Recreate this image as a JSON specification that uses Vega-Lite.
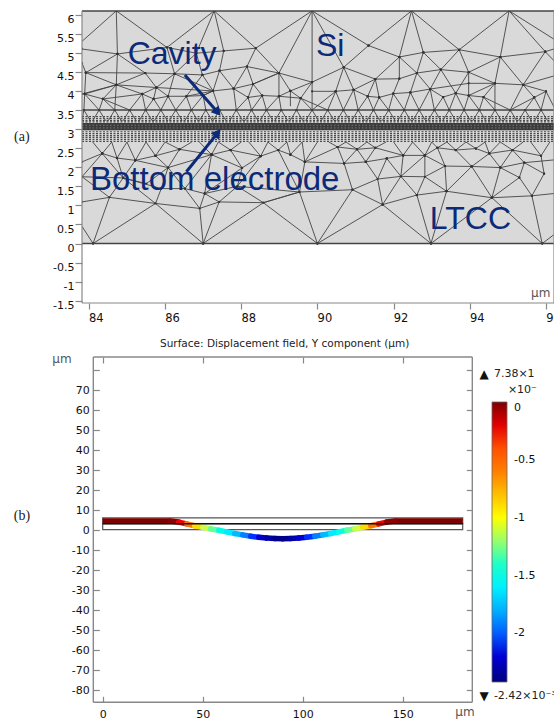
{"$schema":"https://vega.github.io/schema/vega-lite/v6.json","background":"white","padding":{"left":13,"top":10,"right":0,"bottom":0},"bounds":"flush","spacing":54,"config":{"view":{"stroke":null},"axis":{"grid":false,"title":null,"labelFont":"DejaVu Sans","labelFontSize":11,"labelColor":"#111","tickColor":"#888","domain":false,"tickWidth":1.2},"text":{"font":"DejaVu Sans"}},
"datasets":{"mesh":[
{"x":84.72,"y":6.1,"x2":83.82,"y2":5.3},{"x":84.72,"y":6.1,"x2":84.75,"y2":4.97},{"x":84.72,"y":6.1,"x2":86.05,"y2":5.14},{"x":87.29,"y":6.1,"x2":86.05,"y2":5.14},{"x":87.29,"y":6.1,"x2":86.82,"y2":4.99},{"x":87.29,"y":6.1,"x2":87.54,"y2":5.05},{"x":87.29,"y":6.1,"x2":88.38,"y2":5.12},{"x":89.86,"y":6.1,"x2":88.38,"y2":5.12},{"x":89.86,"y":6.1,"x2":88.99,"y2":4.47},{"x":89.86,"y":6.1,"x2":89.86,"y2":4.23},
{"x":83.82,"y":5.1,"x2":84.75,"y2":4.97},{"x":84.75,"y":4.97,"x2":86.05,"y2":5.14},{"x":86.05,"y":5.14,"x2":86.82,"y2":4.99},{"x":86.82,"y":4.99,"x2":87.54,"y2":5.05},{"x":87.54,"y":5.05,"x2":88.38,"y2":5.12},
{"x":84.75,"y":4.97,"x2":83.92,"y2":4.48},{"x":84.75,"y":4.97,"x2":84.72,"y2":4.16},{"x":84.75,"y":4.97,"x2":85.48,"y2":4.47},{"x":86.05,"y":5.14,"x2":86.25,"y2":4.45},{"x":86.82,"y":4.99,"x2":86.25,"y2":4.45},{"x":86.82,"y":4.99,"x2":86.98,"y2":4.42},{"x":87.54,"y":5.05,"x2":87.43,"y2":4.53},{"x":88.38,"y":5.12,"x2":88.15,"y2":4.64},{"x":88.38,"y":5.12,"x2":88.99,"y2":4.47},
{"x":83.92,"y":4.48,"x2":85.48,"y2":4.47},{"x":85.48,"y":4.47,"x2":86.25,"y2":4.45},{"x":86.25,"y":4.45,"x2":86.98,"y2":4.42},{"x":86.98,"y":4.42,"x2":87.43,"y2":4.53},{"x":87.43,"y":4.53,"x2":88.15,"y2":4.64},{"x":88.15,"y":4.64,"x2":88.99,"y2":4.47},{"x":88.99,"y":4.47,"x2":89.86,"y2":4.23},{"x":83.82,"y":4.73,"x2":83.92,"y2":4.48},
{"x":83.82,"y":3.92,"x2":84.72,"y2":4.16},{"x":84.72,"y":4.16,"x2":85.77,"y2":4.09},{"x":85.77,"y":4.09,"x2":87.26,"y2":4.0},{"x":87.26,"y":4.0,"x2":87.8,"y2":4.06},{"x":87.8,"y":4.06,"x2":88.31,"y2":4.18},{"x":88.31,"y":4.18,"x2":88.99,"y2":4.47},
{"x":83.92,"y":4.48,"x2":84.72,"y2":4.16},{"x":83.92,"y":4.48,"x2":83.89,"y2":3.92},{"x":85.48,"y":4.47,"x2":84.72,"y2":4.16},{"x":85.48,"y":4.47,"x2":85.77,"y2":4.09},{"x":86.25,"y":4.45,"x2":85.77,"y2":4.09},{"x":86.25,"y":4.45,"x2":86.08,"y2":3.86},{"x":86.25,"y":4.45,"x2":87.26,"y2":4.0},{"x":86.98,"y":4.42,"x2":87.26,"y2":4.0},{"x":87.43,"y":4.53,"x2":87.26,"y2":4.0},{"x":87.43,"y":4.53,"x2":87.8,"y2":4.06},{"x":88.15,"y":4.64,"x2":87.8,"y2":4.06},{"x":88.15,"y":4.64,"x2":88.31,"y2":4.18},{"x":88.99,"y":4.47,"x2":88.31,"y2":4.18},{"x":88.99,"y":4.47,"x2":88.99,"y2":3.86},{"x":88.99,"y":4.47,"x2":89.29,"y2":4.0},{"x":89.86,"y":4.23,"x2":89.29,"y2":4.0},{"x":89.86,"y":4.23,"x2":89.56,"y2":3.81},{"x":89.86,"y":4.23,"x2":89.86,"y2":3.5},
{"x":84.72,"y":4.16,"x2":83.89,"y2":3.92},{"x":84.72,"y":4.16,"x2":84.37,"y2":3.79},{"x":84.72,"y":4.16,"x2":85.4,"y2":3.92},{"x":84.72,"y":4.16,"x2":84.68,"y2":3.5},{"x":85.77,"y":4.09,"x2":85.4,"y2":3.92},{"x":85.77,"y":4.09,"x2":85.7,"y2":3.79},{"x":85.77,"y":4.09,"x2":86.08,"y2":3.86},{"x":87.26,"y":4.0,"x2":86.56,"y2":3.86},{"x":87.26,"y":4.0,"x2":87.0,"y2":3.88},{"x":87.8,"y":4.06,"x2":88.18,"y2":3.83},{"x":88.31,"y":4.18,"x2":88.18,"y2":3.83},{"x":88.31,"y":4.18,"x2":88.55,"y2":3.88},{"x":89.29,"y":4.0,"x2":88.99,"y2":3.86},{"x":89.29,"y":4.0,"x2":89.56,"y2":3.81},{"x":89.29,"y":4.0,"x2":89.29,"y2":3.6},
{"x":83.89,"y":3.92,"x2":84.37,"y2":3.79},{"x":84.37,"y":3.79,"x2":85.07,"y2":3.5},{"x":84.37,"y":3.79,"x2":85.4,"y2":3.92},{"x":85.4,"y":3.92,"x2":85.7,"y2":3.79},{"x":85.7,"y":3.79,"x2":86.08,"y2":3.86},{"x":86.08,"y":3.86,"x2":86.56,"y2":3.86},{"x":86.56,"y":3.86,"x2":87.0,"y2":3.88},{"x":87.0,"y":3.88,"x2":87.26,"y2":4.0},{"x":88.18,"y":3.83,"x2":88.55,"y2":3.88},{"x":88.55,"y":3.88,"x2":88.99,"y2":3.86},{"x":88.99,"y":3.86,"x2":89.56,"y2":3.81},{"x":86.98,"y":4.42,"x2":86.56,"y2":3.86},{"x":89.56,"y":3.81,"x2":90.27,"y2":3.5},{"x":90.48,"y":3.99,"x2":89.86,"y2":3.5},{"x":94.36,"y":3.84,"x2":95.06,"y2":3.5},{"x":95.06,"y":3.5,"x2":95.69,"y2":3.83},{"x":95.69,"y":3.83,"x2":96.0,"y2":3.99},
{"x":83.89,"y":3.92,"x2":83.87,"y2":3.5},{"x":83.89,"y":3.92,"x2":84.27,"y2":3.5},{"x":84.37,"y":3.79,"x2":84.27,"y2":3.5},{"x":84.37,"y":3.79,"x2":84.68,"y2":3.5},{"x":85.4,"y":3.92,"x2":85.07,"y2":3.5},{"x":85.4,"y":3.92,"x2":85.49,"y2":3.5},{"x":85.7,"y":3.79,"x2":85.49,"y2":3.5},{"x":85.7,"y":3.79,"x2":85.89,"y2":3.5},{"x":86.08,"y":3.86,"x2":85.89,"y2":3.5},{"x":86.08,"y":3.86,"x2":86.28,"y2":3.5},{"x":86.56,"y":3.86,"x2":86.28,"y2":3.5},{"x":86.56,"y":3.86,"x2":86.69,"y2":3.5},{"x":87.0,"y":3.88,"x2":86.69,"y2":3.5},{"x":87.0,"y":3.88,"x2":87.07,"y2":3.5},{"x":87.26,"y":4.0,"x2":87.43,"y2":3.5},{"x":87.8,"y":4.06,"x2":87.87,"y2":3.5},{"x":88.18,"y":3.83,"x2":87.87,"y2":3.5},{"x":88.18,"y":3.83,"x2":88.27,"y2":3.5},{"x":88.55,"y":3.88,"x2":88.27,"y2":3.5},{"x":88.55,"y":3.88,"x2":88.66,"y2":3.5},{"x":88.99,"y":3.86,"x2":88.66,"y2":3.5},{"x":88.99,"y":3.86,"x2":89.05,"y2":3.5},{"x":89.56,"y":3.81,"x2":89.45,"y2":3.5},{"x":89.56,"y":3.81,"x2":89.86,"y2":3.5},
{"x":89.86,"y":6.1,"x2":91.34,"y2":5.19},{"x":89.86,"y":6.1,"x2":90.69,"y2":4.62},{"x":91.34,"y":5.19,"x2":92.47,"y2":6.1},{"x":91.34,"y":5.19,"x2":90.69,"y2":4.62},{"x":91.34,"y":5.19,"x2":92.15,"y2":4.89},{"x":92.47,"y":6.1,"x2":92.15,"y2":4.89},{"x":92.47,"y":6.1,"x2":92.78,"y2":5.01},{"x":92.47,"y":6.1,"x2":93.72,"y2":5.08},{"x":92.15,"y":4.89,"x2":92.78,"y2":5.01},{"x":92.78,"y":5.01,"x2":93.72,"y2":5.08},{"x":93.72,"y":5.08,"x2":94.8,"y2":4.89},{"x":93.72,"y":5.08,"x2":95.03,"y2":6.1},{"x":94.8,"y":4.89,"x2":95.03,"y2":6.1},{"x":94.8,"y":4.89,"x2":95.98,"y2":5.03},{"x":95.03,"y":6.1,"x2":95.98,"y2":5.03},{"x":95.03,"y":6.1,"x2":96.3,"y2":5.3},{"x":95.98,"y":5.03,"x2":96.3,"y2":5.13},
{"x":92.15,"y":4.89,"x2":91.52,"y2":4.31},{"x":92.15,"y":4.89,"x2":92.15,"y2":4.32},{"x":92.15,"y":4.89,"x2":92.61,"y2":4.47},{"x":92.78,"y":5.01,"x2":92.61,"y2":4.47},{"x":92.78,"y":5.01,"x2":93.24,"y2":4.56},{"x":93.72,"y":5.08,"x2":93.24,"y2":4.56},{"x":93.72,"y":5.08,"x2":93.97,"y2":4.49},{"x":94.8,"y":4.89,"x2":93.97,"y2":4.49},{"x":94.8,"y":4.89,"x2":94.66,"y2":4.2},{"x":94.8,"y":4.89,"x2":95.4,"y2":4.16},{"x":95.98,"y":5.03,"x2":95.4,"y2":4.16},{"x":95.98,"y":5.03,"x2":96.3,"y2":4.7},
{"x":90.69,"y":4.62,"x2":89.86,"y2":4.23},{"x":90.69,"y":4.62,"x2":90.48,"y2":3.99},{"x":90.69,"y":4.62,"x2":90.95,"y2":4.03},{"x":90.69,"y":4.62,"x2":91.52,"y2":4.31},{"x":91.52,"y":4.31,"x2":92.15,"y2":4.32},{"x":92.15,"y":4.32,"x2":92.61,"y2":4.47},{"x":92.61,"y":4.47,"x2":93.24,"y2":4.56},{"x":93.24,"y":4.56,"x2":93.97,"y2":4.49},{"x":93.97,"y":4.49,"x2":94.66,"y2":4.2},{"x":94.66,"y":4.2,"x2":95.4,"y2":4.16},{"x":95.4,"y":4.16,"x2":96.3,"y2":4.42},
{"x":89.86,"y":3.99,"x2":90.48,"y2":3.99},{"x":90.48,"y":3.99,"x2":90.95,"y2":4.03},{"x":90.95,"y":4.03,"x2":91.52,"y2":4.31},{"x":91.52,"y":4.31,"x2":91.32,"y2":3.86},{"x":91.52,"y":4.31,"x2":91.62,"y2":3.83},{"x":91.32,"y":3.86,"x2":91.62,"y2":3.83},{"x":91.62,"y":3.83,"x2":91.99,"y2":3.93},{"x":91.99,"y":3.93,"x2":92.44,"y2":3.96},{"x":92.44,"y":3.96,"x2":92.96,"y2":4.05},{"x":92.96,"y":4.05,"x2":93.97,"y2":4.2},{"x":93.97,"y":4.2,"x2":94.66,"y2":4.2},{"x":92.15,"y":4.32,"x2":91.99,"y2":3.93},{"x":92.61,"y":4.47,"x2":92.44,"y2":3.96},{"x":92.61,"y":4.47,"x2":92.96,"y2":4.05},{"x":93.24,"y":4.56,"x2":92.96,"y2":4.05},{"x":93.24,"y":4.56,"x2":93.63,"y2":3.94},{"x":93.97,"y":4.49,"x2":93.63,"y2":3.94},{"x":93.97,"y":4.49,"x2":93.97,"y2":3.88},{"x":94.66,"y":4.2,"x2":93.97,"y2":3.88},{"x":94.66,"y":4.2,"x2":94.36,"y2":3.84},{"x":94.66,"y":4.2,"x2":94.66,"y2":3.5},{"x":95.4,"y":4.16,"x2":95.06,"y2":3.5},{"x":95.4,"y":4.16,"x2":95.69,"y2":3.83},{"x":95.4,"y":4.16,"x2":96.0,"y2":3.99},{"x":93.3,"y":3.84,"x2":93.63,"y2":3.94},{"x":93.63,"y":3.94,"x2":93.97,"y2":3.88},{"x":93.97,"y":3.88,"x2":94.36,"y2":3.84},{"x":92.96,"y":4.05,"x2":93.3,"y2":3.84},
{"x":90.48,"y":3.99,"x2":90.27,"y2":3.5},{"x":90.48,"y":3.99,"x2":90.68,"y2":3.5},{"x":90.95,"y":4.03,"x2":90.68,"y2":3.5},{"x":90.95,"y":4.03,"x2":91.07,"y2":3.5},{"x":90.95,"y":4.03,"x2":91.32,"y2":3.86},{"x":91.32,"y":3.86,"x2":91.07,"y2":3.5},{"x":91.32,"y":3.86,"x2":91.47,"y2":3.5},{"x":91.62,"y":3.83,"x2":91.47,"y2":3.5},{"x":91.62,"y":3.83,"x2":91.87,"y2":3.5},{"x":91.99,"y":3.93,"x2":91.87,"y2":3.5},{"x":91.99,"y":3.93,"x2":92.28,"y2":3.5},{"x":92.44,"y":3.96,"x2":92.28,"y2":3.5},{"x":92.44,"y":3.96,"x2":92.67,"y2":3.5},{"x":92.96,"y":4.05,"x2":92.67,"y2":3.5},{"x":92.96,"y":4.05,"x2":93.07,"y2":3.5},{"x":93.3,"y":3.84,"x2":93.07,"y2":3.5},{"x":93.3,"y":3.84,"x2":93.46,"y2":3.5},{"x":93.63,"y":3.94,"x2":93.46,"y2":3.5},{"x":93.63,"y":3.94,"x2":93.85,"y2":3.5},{"x":93.97,"y":3.88,"x2":93.85,"y2":3.5},{"x":93.97,"y":3.88,"x2":94.25,"y2":3.5},{"x":94.36,"y":3.84,"x2":94.25,"y2":3.5},{"x":94.36,"y":3.84,"x2":94.66,"y2":3.5},{"x":95.69,"y":3.83,"x2":95.45,"y2":3.5},{"x":95.69,"y":3.83,"x2":95.87,"y2":3.5},{"x":96.0,"y":3.99,"x2":95.87,"y2":3.5},{"x":96.0,"y":3.99,"x2":96.25,"y2":3.5},
{"x":84.11,"y":0,"x2":83.82,"y2":0.45},{"x":84.11,"y":0,"x2":84.54,"y2":1.21},{"x":84.11,"y":0,"x2":85.75,"y2":1.05},{"x":87.0,"y":0,"x2":85.75,"y2":1.05},{"x":87.0,"y":0,"x2":86.91,"y2":0.92},{"x":87.0,"y":0,"x2":87.42,"y2":1.09},{"x":87.0,"y":0,"x2":88.58,"y2":1.07},{"x":90.0,"y":0,"x2":88.58,"y2":1.07},{"x":90.0,"y":0,"x2":89.53,"y2":1.35},{"x":90.0,"y":0,"x2":90.92,"y2":1.41},{"x":90.0,"y":0,"x2":91.71,"y2":1.02},{"x":92.98,"y":0,"x2":91.71,"y2":1.02},{"x":92.98,"y":0,"x2":92.61,"y2":1.27},{"x":92.98,"y":0,"x2":93.39,"y2":1.37},{"x":92.98,"y":0,"x2":94.58,"y2":1.2},{"x":95.9,"y":0,"x2":94.58,"y2":1.2},{"x":95.9,"y":0,"x2":95.63,"y2":1.25},{"x":95.9,"y":0,"x2":96.3,"y2":0.3},
{"x":83.82,"y":1.09,"x2":84.54,"y2":1.21},{"x":84.54,"y":1.21,"x2":85.75,"y2":1.05},{"x":85.75,"y":1.05,"x2":86.91,"y2":0.92},{"x":86.91,"y":0.92,"x2":87.42,"y2":1.09},{"x":87.42,"y":1.09,"x2":88.58,"y2":1.07},{"x":88.58,"y":1.07,"x2":89.53,"y2":1.35},{"x":89.53,"y":1.35,"x2":90.92,"y2":1.41},{"x":90.92,"y":1.41,"x2":91.71,"y2":1.02},{"x":91.71,"y":1.02,"x2":92.61,"y2":1.27},{"x":92.61,"y":1.27,"x2":93.39,"y2":1.37},{"x":93.39,"y":1.37,"x2":94.58,"y2":1.2},{"x":94.58,"y":1.2,"x2":95.63,"y2":1.25},{"x":95.63,"y":1.25,"x2":96.3,"y2":1.32},
{"x":83.82,"y":1.75,"x2":84.9,"y2":1.72},{"x":84.9,"y":1.72,"x2":85.9,"y2":1.44},{"x":85.9,"y":1.44,"x2":86.52,"y2":1.44},{"x":86.52,"y":1.44,"x2":87.04,"y2":1.31},{"x":87.04,"y":1.31,"x2":87.9,"y2":1.5},{"x":87.9,"y":1.5,"x2":89.53,"y2":1.35},
{"x":83.82,"y":2.14,"x2":84.35,"y2":2.36},{"x":84.35,"y":2.36,"x2":84.74,"y2":2.24},{"x":84.74,"y":2.24,"x2":85.22,"y2":2.18},{"x":85.22,"y":2.18,"x2":85.75,"y2":2.3},{"x":85.75,"y":2.3,"x2":86.38,"y2":2.47},{"x":86.38,"y":2.47,"x2":87.22,"y2":2.33},{"x":87.22,"y":2.33,"x2":87.72,"y2":2.45},{"x":87.72,"y":2.45,"x2":88.51,"y2":2.29},{"x":88.51,"y":2.29,"x2":88.97,"y2":2.45},{"x":88.97,"y":2.45,"x2":89.29,"y2":2.33},{"x":89.29,"y":2.33,"x2":89.67,"y2":2.14},{"x":89.67,"y":2.14,"x2":90.7,"y2":2.1},
{"x":84.35,"y":2.36,"x2":84.1,"y2":2.66},{"x":84.35,"y":2.36,"x2":84.6,"y2":2.66},{"x":84.74,"y":2.24,"x2":84.6,"y2":2.66},{"x":84.74,"y":2.24,"x2":85.0,"y2":2.66},{"x":85.22,"y":2.18,"x2":85.0,"y2":2.66},{"x":85.22,"y":2.18,"x2":85.5,"y2":2.66},{"x":85.75,"y":2.3,"x2":85.5,"y2":2.66},{"x":85.75,"y":2.3,"x2":86.0,"y2":2.66},{"x":86.38,"y":2.47,"x2":86.0,"y2":2.66},{"x":86.38,"y":2.47,"x2":86.7,"y2":2.66},{"x":87.22,"y":2.33,"x2":86.9,"y2":2.66},{"x":87.22,"y":2.33,"x2":87.4,"y2":2.66},{"x":87.72,"y":2.45,"x2":87.4,"y2":2.66},{"x":87.72,"y":2.45,"x2":88.0,"y2":2.66},{"x":88.51,"y":2.29,"x2":88.2,"y2":2.66},{"x":88.51,"y":2.29,"x2":88.7,"y2":2.66},{"x":88.97,"y":2.45,"x2":88.7,"y2":2.66},{"x":88.97,"y":2.45,"x2":89.2,"y2":2.66},{"x":89.29,"y":2.33,"x2":89.2,"y2":2.66},{"x":89.29,"y":2.33,"x2":89.6,"y2":2.66},{"x":89.67,"y":2.14,"x2":89.6,"y2":2.66},{"x":89.67,"y":2.14,"x2":90.0,"y2":2.66},
{"x":84.35,"y":2.36,"x2":83.82,"y2":1.75},{"x":84.35,"y":2.36,"x2":84.9,"y2":1.72},{"x":84.74,"y":2.24,"x2":84.9,"y2":1.72},{"x":85.22,"y":2.18,"x2":84.9,"y2":1.72},{"x":85.22,"y":2.18,"x2":86.08,"y2":1.99},{"x":85.75,"y":2.3,"x2":86.08,"y2":1.99},{"x":86.38,"y":2.47,"x2":86.08,"y2":1.99},{"x":87.22,"y":2.33,"x2":86.08,"y2":1.99},{"x":86.08,"y":1.99,"x2":85.9,"y2":1.44},{"x":86.08,"y":1.99,"x2":86.52,"y2":1.44},{"x":86.08,"y":1.99,"x2":85.51,"y2":1.57},{"x":85.51,"y":1.57,"x2":84.9,"y2":1.72},{"x":87.22,"y":2.33,"x2":86.52,"y2":1.44},{"x":87.22,"y":2.33,"x2":87.04,"y2":1.31},{"x":87.72,"y":2.45,"x2":88.02,"y2":1.98},{"x":88.51,"y":2.29,"x2":88.02,"y2":1.98},{"x":87.22,"y":2.33,"x2":88.02,"y2":1.98},{"x":88.02,"y":1.98,"x2":87.04,"y2":1.31},{"x":88.02,"y":1.98,"x2":87.9,"y2":1.5},{"x":87.9,"y":1.5,"x2":87.42,"y2":1.09},{"x":88.51,"y":2.29,"x2":87.9,"y2":1.5},{"x":88.97,"y":2.45,"x2":89.53,"y2":1.35},{"x":89.67,"y":2.14,"x2":89.53,"y2":1.35},{"x":84.9,"y":1.72,"x2":84.54,"y2":1.21},{"x":84.9,"y":1.72,"x2":85.75,"y2":1.05},{"x":85.9,"y":1.44,"x2":85.75,"y2":1.05},{"x":86.52,"y":1.44,"x2":86.91,"y2":0.92},{"x":87.04,"y":1.31,"x2":86.91,"y2":0.92},{"x":87.04,"y":1.31,"x2":87.42,"y2":1.09},{"x":87.9,"y":1.5,"x2":88.58,"y2":1.07},{"x":89.53,"y":1.35,"x2":88.58,"y2":1.07},{"x":83.82,"y":1.75,"x2":84.54,"y2":1.21},
{"x":90.92,"y":1.41,"x2":91.58,"y2":1.69},{"x":91.58,"y":1.69,"x2":92.19,"y2":1.76},{"x":92.19,"y":1.76,"x2":92.82,"y2":1.75},{"x":92.82,"y":1.75,"x2":93.35,"y2":2.03},{"x":93.35,"y":2.03,"x2":94.05,"y2":2.02},{"x":94.05,"y":2.02,"x2":94.8,"y2":1.99},{"x":94.8,"y":1.99,"x2":95.43,"y2":2.12},{"x":95.43,"y":2.12,"x2":96.3,"y2":2.2},{"x":90.7,"y":2.1,"x2":91.27,"y2":2.14},{"x":91.27,"y":2.14,"x2":91.82,"y2":2.23},{"x":91.82,"y":2.23,"x2":92.25,"y2":2.31},
{"x":91.71,"y":1.02,"x2":91.58,"y2":1.69},{"x":91.71,"y":1.02,"x2":92.19,"y2":1.76},{"x":92.61,"y":1.27,"x2":92.19,"y2":1.76},{"x":92.61,"y":1.27,"x2":92.82,"y2":1.75},{"x":93.39,"y":1.37,"x2":92.82,"y2":1.75},{"x":93.39,"y":1.37,"x2":93.35,"y2":2.03},{"x":93.39,"y":1.37,"x2":94.05,"y2":2.02},{"x":94.58,"y":1.2,"x2":94.05,"y2":2.02},{"x":94.58,"y":1.2,"x2":94.8,"y2":1.99},{"x":94.58,"y":1.2,"x2":95.3,"y2":1.73},{"x":95.63,"y":1.25,"x2":95.3,"y2":1.73},{"x":95.63,"y":1.25,"x2":95.95,"y2":1.83},
{"x":90.7,"y":2.1,"x2":90.92,"y2":1.41},{"x":90.7,"y":2.1,"x2":90.53,"y2":2.53},{"x":90.7,"y":2.1,"x2":91.04,"y2":2.47},{"x":91.27,"y":2.14,"x2":91.04,"y2":2.47},{"x":91.27,"y":2.14,"x2":91.58,"y2":1.69},{"x":91.27,"y":2.14,"x2":91.52,"y2":2.51},{"x":91.82,"y":2.23,"x2":91.58,"y2":1.69},{"x":91.82,"y":2.23,"x2":92.19,"y2":1.76},{"x":92.25,"y":2.31,"x2":92.19,"y2":1.76},{"x":92.82,"y":2.31,"x2":92.19,"y2":1.76},{"x":92.82,"y":2.31,"x2":92.82,"y2":1.75},{"x":93.35,"y":2.03,"x2":93.15,"y2":2.51},{"x":93.35,"y":2.03,"x2":92.82,"y2":2.31},{"x":94.05,"y":2.02,"x2":93.63,"y2":2.45},{"x":94.05,"y":2.02,"x2":94.51,"y2":2.36},{"x":94.8,"y":1.99,"x2":94.51,"y2":2.36},{"x":94.8,"y":1.99,"x2":95.12,"y2":2.45},{"x":95.43,"y":2.12,"x2":95.12,"y2":2.45},{"x":95.3,"y":1.73,"x2":94.8,"y2":1.99},{"x":95.3,"y":1.73,"x2":95.43,"y2":2.12},{"x":95.95,"y":1.83,"x2":95.43,"y2":2.12},{"x":95.95,"y":1.83,"x2":95.87,"y2":2.3},
{"x":89.67,"y":2.14,"x2":90.53,"y2":2.53},{"x":90.53,"y":2.53,"x2":91.04,"y2":2.47},{"x":91.04,"y":2.47,"x2":91.52,"y2":2.51},{"x":91.52,"y":2.51,"x2":92.25,"y2":2.31},{"x":92.25,"y":2.31,"x2":92.82,"y2":2.31},{"x":92.82,"y":2.31,"x2":93.15,"y2":2.51},{"x":93.15,"y":2.51,"x2":93.63,"y2":2.45},{"x":93.63,"y":2.45,"x2":94.16,"y2":2.49},{"x":94.16,"y":2.49,"x2":94.51,"y2":2.36},{"x":94.51,"y":2.36,"x2":95.12,"y2":2.45},{"x":95.12,"y":2.45,"x2":95.87,"y2":2.3},
{"x":90.53,"y":2.53,"x2":90.3,"y2":2.66},{"x":90.53,"y":2.53,"x2":90.75,"y2":2.66},{"x":91.04,"y":2.47,"x2":90.75,"y2":2.66},{"x":91.04,"y":2.47,"x2":91.3,"y2":2.66},{"x":91.52,"y":2.51,"x2":91.3,"y2":2.66},{"x":91.52,"y":2.51,"x2":91.8,"y2":2.66},{"x":92.25,"y":2.31,"x2":92.0,"y2":2.66},{"x":92.25,"y":2.31,"x2":92.5,"y2":2.66},{"x":92.82,"y":2.31,"x2":92.5,"y2":2.66},{"x":92.82,"y":2.31,"x2":93.0,"y2":2.66},{"x":93.15,"y":2.51,"x2":93.0,"y2":2.66},{"x":93.15,"y":2.51,"x2":93.4,"y2":2.66},{"x":93.63,"y":2.45,"x2":93.4,"y2":2.66},{"x":93.63,"y":2.45,"x2":93.9,"y2":2.66},{"x":94.16,"y":2.49,"x2":93.9,"y2":2.66},{"x":94.16,"y":2.49,"x2":94.4,"y2":2.66},{"x":94.51,"y":2.36,"x2":94.4,"y2":2.66},{"x":94.51,"y":2.36,"x2":94.8,"y2":2.66},{"x":95.12,"y":2.45,"x2":94.8,"y2":2.66},{"x":95.12,"y":2.45,"x2":95.4,"y2":2.66},{"x":95.87,"y":2.3,"x2":95.6,"y2":2.66},{"x":95.87,"y":2.3,"x2":96.1,"y2":2.66},
{"x":83.87,"y":3.5,"x2":83.82,"y2":3.22},{"x":83.87,"y":3.5,"x2":84.04,"y2":3.22},{"x":84.27,"y":3.5,"x2":84.1,"y2":3.22},{"x":84.27,"y":3.5,"x2":84.44,"y2":3.22},{"x":84.68,"y":3.5,"x2":84.51,"y2":3.22},{"x":84.68,"y":3.5,"x2":84.85,"y2":3.22},{"x":85.07,"y":3.5,"x2":84.9,"y2":3.22},{"x":85.07,"y":3.5,"x2":85.24,"y2":3.22},{"x":85.49,"y":3.5,"x2":85.32,"y2":3.22},{"x":85.49,"y":3.5,"x2":85.66,"y2":3.22},{"x":85.89,"y":3.5,"x2":85.72,"y2":3.22},{"x":85.89,"y":3.5,"x2":86.06,"y2":3.22},{"x":86.28,"y":3.5,"x2":86.11,"y2":3.22},{"x":86.28,"y":3.5,"x2":86.45,"y2":3.22},{"x":86.69,"y":3.5,"x2":86.52,"y2":3.22},{"x":86.69,"y":3.5,"x2":86.86,"y2":3.22},{"x":87.07,"y":3.5,"x2":86.9,"y2":3.22},{"x":87.07,"y":3.5,"x2":87.24,"y2":3.22},{"x":87.43,"y":3.5,"x2":87.26,"y2":3.22},{"x":87.43,"y":3.5,"x2":87.6,"y2":3.22},{"x":87.87,"y":3.5,"x2":87.7,"y2":3.22},{"x":87.87,"y":3.5,"x2":88.04,"y2":3.22},{"x":88.27,"y":3.5,"x2":88.1,"y2":3.22},{"x":88.27,"y":3.5,"x2":88.44,"y2":3.22},{"x":88.66,"y":3.5,"x2":88.49,"y2":3.22},{"x":88.66,"y":3.5,"x2":88.83,"y2":3.22},{"x":89.05,"y":3.5,"x2":88.88,"y2":3.22},{"x":89.05,"y":3.5,"x2":89.22,"y2":3.22},{"x":89.45,"y":3.5,"x2":89.28,"y2":3.22},{"x":89.45,"y":3.5,"x2":89.62,"y2":3.22},{"x":89.86,"y":3.5,"x2":89.69,"y2":3.22},{"x":89.86,"y":3.5,"x2":90.03,"y2":3.22},{"x":90.27,"y":3.5,"x2":90.1,"y2":3.22},{"x":90.27,"y":3.5,"x2":90.44,"y2":3.22},{"x":90.68,"y":3.5,"x2":90.51,"y2":3.22},{"x":90.68,"y":3.5,"x2":90.85,"y2":3.22},{"x":91.07,"y":3.5,"x2":90.9,"y2":3.22},{"x":91.07,"y":3.5,"x2":91.24,"y2":3.22},{"x":91.47,"y":3.5,"x2":91.3,"y2":3.22},{"x":91.47,"y":3.5,"x2":91.64,"y2":3.22},{"x":91.87,"y":3.5,"x2":91.7,"y2":3.22},{"x":91.87,"y":3.5,"x2":92.04,"y2":3.22},{"x":92.28,"y":3.5,"x2":92.11,"y2":3.22},{"x":92.28,"y":3.5,"x2":92.45,"y2":3.22},{"x":92.67,"y":3.5,"x2":92.5,"y2":3.22},{"x":92.67,"y":3.5,"x2":92.84,"y2":3.22},{"x":93.07,"y":3.5,"x2":92.9,"y2":3.22},{"x":93.07,"y":3.5,"x2":93.24,"y2":3.22},{"x":93.46,"y":3.5,"x2":93.29,"y2":3.22},{"x":93.46,"y":3.5,"x2":93.63,"y2":3.22},{"x":93.85,"y":3.5,"x2":93.68,"y2":3.22},{"x":93.85,"y":3.5,"x2":94.02,"y2":3.22},{"x":94.25,"y":3.5,"x2":94.08,"y2":3.22},{"x":94.25,"y":3.5,"x2":94.42,"y2":3.22},{"x":94.66,"y":3.5,"x2":94.49,"y2":3.22},{"x":94.66,"y":3.5,"x2":94.83,"y2":3.22},{"x":95.06,"y":3.5,"x2":94.89,"y2":3.22},{"x":95.06,"y":3.5,"x2":95.23,"y2":3.22},{"x":95.45,"y":3.5,"x2":95.28,"y2":3.22},{"x":95.45,"y":3.5,"x2":95.62,"y2":3.22},{"x":95.87,"y":3.5,"x2":95.7,"y2":3.22},{"x":95.87,"y":3.5,"x2":96.04,"y2":3.22}
],
"bend":[
{"x":34,"y":4.6,"x2":38,"y2":4.1,"v":-0.03},{"x":38,"y":4.1,"x2":42,"y2":3.2,"v":-0.22},{"x":42,"y":3.2,"x2":46,"y2":2.3,"v":-0.55},{"x":46,"y":2.3,"x2":50,"y2":1.5,"v":-0.88},{"x":50,"y":1.5,"x2":54,"y2":0.7,"v":-1.1},{"x":54,"y":0.7,"x2":58,"y2":0,"v":-1.3},{"x":58,"y":0,"x2":62,"y2":-0.8,"v":-1.47},{"x":62,"y":-0.8,"x2":66,"y2":-1.6,"v":-1.62},{"x":66,"y":-1.6,"x2":70,"y2":-2.3,"v":-1.77},{"x":70,"y":-2.3,"x2":74,"y2":-3,"v":-1.92},{"x":74,"y":-3,"x2":78,"y2":-3.5,"v":-2.07},{"x":78,"y":-3.5,"x2":82,"y2":-3.9,"v":-2.2},{"x":82,"y":-3.9,"x2":86,"y2":-4.1,"v":-2.31},{"x":86,"y":-4.1,"x2":90,"y2":-4.2,"v":-2.39},
{"x":90,"y":-4.2,"x2":94,"y2":-4.1,"v":-2.39},{"x":94,"y":-4.1,"x2":98,"y2":-3.9,"v":-2.31},{"x":98,"y":-3.9,"x2":102,"y2":-3.5,"v":-2.2},{"x":102,"y":-3.5,"x2":106,"y2":-3,"v":-2.07},{"x":106,"y":-3,"x2":110,"y2":-2.3,"v":-1.92},{"x":110,"y":-2.3,"x2":114,"y2":-1.6,"v":-1.77},{"x":114,"y":-1.6,"x2":118,"y2":-0.8,"v":-1.62},{"x":118,"y":-0.8,"x2":122,"y2":0,"v":-1.47},{"x":122,"y":0,"x2":126,"y2":0.7,"v":-1.3},{"x":126,"y":0.7,"x2":130,"y2":1.5,"v":-1.1},{"x":130,"y":1.5,"x2":134,"y2":2.3,"v":-0.88},{"x":134,"y":2.3,"x2":138,"y2":3.2,"v":-0.55},{"x":138,"y":3.2,"x2":142,"y2":4.1,"v":-0.22},{"x":142,"y":4.1,"x2":146,"y2":4.6,"v":-0.03}
]},
"vconcat":[
{"width":472,"height":292,
"encoding":{"x":{"field":"x","type":"quantitative","scale":{"domain":[83.82,96.21],"nice":false,"zero":false},"axis":{"values":[84,86,88,90,92,94,96],"labelOffset":7,"tickSize":6,"labelPadding":3,"labelFontSize":11.5}},"y":{"field":"y","type":"quantitative","scale":{"domain":[-1.56,6.096],"nice":false,"zero":false},"axis":{"values":[-1.5,-1,-0.5,0,0.5,1,1.5,2,2.5,3,3.5,4,4.5,5,5.5,6],"labelExpr":"replace(format(datum.value,'~g'),'−','-')","labelOffset":5,"tickSize":7,"labelPadding":1}}},
"layer":[
{"data":{"values":[{"x":83.82,"x2":96.21,"y":0,"y2":6.096}]},"mark":{"type":"rect","color":"#d9d9d9"},"encoding":{"x2":{"field":"x2"},"y2":{"field":"y2"}}},
{"data":{"name":"mesh"},"mark":{"type":"rule","color":"#444444","strokeWidth":0.9,"clip":true},"encoding":{"x2":{"field":"x2"},"y2":{"field":"y2"}}},
{"data":{"name":"mesh"},"mark":{"type":"circle","color":"#333333","size":5,"opacity":1,"clip":true}},
{"data":{"values":[{"x":83.82,"x2":96.21,"y":2.97,"y2":3.16}]},"mark":{"type":"rect","color":"#3c3c3c"},"encoding":{"x2":{"field":"x2"},"y2":{"field":"y2"}}},
{"data":{"values":[{"x":83.82,"x2":96.21,"y":3.33},{"x":83.82,"x2":96.21,"y":3.28},{"x":83.82,"x2":96.21,"y":3.23},{"x":83.82,"x2":96.21,"y":3.19},{"x":83.82,"x2":96.21,"y":2.93},{"x":83.82,"x2":96.21,"y":2.88},{"x":83.82,"x2":96.21,"y":2.83},{"x":83.82,"x2":96.21,"y":2.78},{"x":83.82,"x2":96.21,"y":2.73},{"x":83.82,"x2":96.21,"y":2.68}]},"mark":{"type":"rule","color":"#4a4a4a","strokeWidth":1.2,"strokeDash":[2,1.5]},"encoding":{"x2":{"field":"x2"}}},
{"data":{"values":[{"x":83.82,"x2":96.21,"y":3.03},{"x":83.82,"x2":96.21,"y":3.1}]},"mark":{"type":"rule","color":"#8a8a8a","strokeWidth":0.8,"strokeDash":[1.5,2]},"encoding":{"x2":{"field":"x2"}}},
{"data":{"values":[{"x":83.82,"x2":96.21,"y":0},{"x":83.82,"x2":96.21,"y":3.5},{"x":83.82,"x2":96.21,"y":6.096}]},"mark":{"type":"rule","color":"#444444","strokeWidth":1.4},"encoding":{"x2":{"field":"x2"}}},
{"data":{"values":[{"x":83.82,"y":-1.56,"y2":6.096},{"x":96.21,"y":-1.56,"y2":6.096}]},"mark":{"type":"rule","color":"#888888","strokeWidth":1.2},"encoding":{"y2":{"field":"y2"}}},
{"data":{"values":[{"x":83.82,"x2":96.21,"y":-1.56}]},"mark":{"type":"rule","color":"#888888","strokeWidth":1.2},"encoding":{"x2":{"field":"x2"}}},
{"data":{"values":[{"x":86.52,"y":4.42,"x2":87.4,"y2":3.42},{"x":86.56,"y":1.88,"x2":87.4,"y2":2.92}]},"mark":{"type":"rule","color":"#0b2a78","strokeWidth":3},"encoding":{"x2":{"field":"x2"},"y2":{"field":"y2"}}},
{"data":{"values":[{"x":87.38,"y":3.44}]},"mark":{"type":"point","shape":"triangle-up","filled":true,"color":"#0b2a78","opacity":1,"size":110,"angle":139}},
{"data":{"values":[{"x":87.38,"y":2.9}]},"mark":{"type":"point","shape":"triangle-up","filled":true,"color":"#0b2a78","opacity":1,"size":110,"angle":39}},
{"data":{"values":[{"x":85.02,"y":4.7,"t":"Cavity","s":32},{"x":89.96,"y":4.91,"t":"Si","s":32},{"x":84.03,"y":1.4,"t":"Bottom electrode","s":33},{"x":92.95,"y":0.37,"t":"LTCC","s":32}]},"mark":{"type":"text","font":"Liberation Sans","align":"left","baseline":"alphabetic","color":"#0b2a78","fontSize":32},"encoding":{"text":{"field":"t"},"size":{"field":"s","type":"quantitative","scale":null}}},
{"data":{"values":[{"x":95.86,"y":-1.3,"t":"µm"}]},"mark":{"type":"text","fontSize":12,"color":"#555555"},"encoding":{"text":{"field":"t"}}},
{"data":{"values":[{"x":82.24,"y":2.79,"t":"(a)"}]},"mark":{"type":"text","font":"Liberation Serif","fontSize":14,"color":"#222222"},"encoding":{"text":{"field":"t"}}}
]},
{"width":472,"height":345.3,
"resolve":{"axis":{"x":"independent","y":"independent"}},
"encoding":{"x":{"field":"x","type":"quantitative","scale":{"domain":[-10.35,225.65],"nice":false,"zero":false},"axis":null},"y":{"field":"y","type":"quantitative","scale":{"domain":[-86,86.65],"nice":false,"zero":false},"axis":null}},
"layer":[
{"data":{"values":[{"x":-4.7,"y":-86}]},"mark":{"type":"point","opacity":0},"encoding":{"x":{"field":"x","type":"quantitative","scale":{"domain":[-10.35,225.65],"nice":false,"zero":false},"axis":{"orient":"bottom","offset":-6,"values":[0,50,100,150],"tickSize":6,"labelPadding":6}},"y":{"field":"y","type":"quantitative","scale":{"domain":[-86,86.65],"nice":false,"zero":false},"axis":{"orient":"left","offset":-17.3,"values":[-80,-70,-60,-50,-40,-30,-20,-10,0,10,20,30,40,50,60,70,80],"labelExpr":"datum.value==80?'':replace(format(datum.value,'d'),'−','-')","tickSize":6,"labelPadding":4}}}},
{"data":{"values":[{"x":-4.7,"y":-86}]},"mark":{"type":"point","opacity":0},"encoding":{"x":{"field":"x","type":"quantitative","scale":{"domain":[-10.35,225.65],"nice":false,"zero":false},"axis":{"orient":"top","offset":-6,"values":[0,50,100,150],"tickSize":6,"labels":false}},"y":{"field":"y","type":"quantitative","scale":{"domain":[-86,86.65],"nice":false,"zero":false},"axis":{"orient":"right","offset":-87.7,"values":[-80,-70,-60,-50,-40,-30,-20,-10,0,10,20,30,40,50,60,70,80],"tickSize":6,"labels":false}}}},
{"data":{"values":[{"x":-4.7,"y":-86,"x2":184.8},{"x":-4.7,"y":86.65,"x2":184.8}]},"mark":{"type":"rule","color":"#888888","strokeWidth":1.4},"encoding":{"x2":{"field":"x2"}}},
{"data":{"values":[{"x":-4.7,"y":-86,"y2":86.65},{"x":184.8,"y":-86,"y2":86.65}]},"mark":{"type":"rule","color":"#888888","strokeWidth":1.4},"encoding":{"y2":{"field":"y2"}}},
{"data":{"values":[{"x":0,"x2":180,"y":3.3,"y2":6.2},{"x":0,"x2":180,"y":0.3,"y2":3.3}]},"mark":{"type":"rect","fill":"white","stroke":"#555555","strokeWidth":1.2},"encoding":{"x2":{"field":"x2"},"y2":{"field":"y2"}}},
{"data":{"values":[{"x":0,"x2":34,"y":4.65,"y2":4.65,"v":0},{"x":146,"x2":180,"y":4.65,"y2":4.65,"v":0}]},"mark":{"type":"rule","strokeWidth":5.4},"encoding":{"x2":{"field":"x2"},"y2":{"field":"y2"},"color":{"field":"v","type":"quantitative","scale":{"domain":[-2.42,-2.1,-1.55,-1.25,-1,-0.6,-0.25,0],"range":["#00007f","#0000ff","#00ffff","#7fff7f","#ffff00","#ff7f00","#ff0000","#7f0000"]},"legend":{"title":null,"orient":"none","legendX":410,"legendY":391,"direction":"vertical","gradientLength":280,"gradientThickness":15,"gradientStrokeColor":"#666666","gradientStrokeWidth":0.8,"values":[0,-0.5,-1,-1.5,-2],"labelExpr":"replace(format(datum.value,'~g'),'−','-')","labelOverlap":false,"labelFont":"DejaVu Sans","labelFontSize":11,"labelColor":"#111111","labelOffset":7,"labelBaseline":"middle"}}}},
{"data":{"name":"bend"},"mark":{"type":"rule","strokeWidth":5.5,"strokeCap":"round"},"encoding":{"x2":{"field":"x2"},"y2":{"field":"y2"},"color":{"field":"v","type":"quantitative","scale":{"domain":[-2.42,-2.1,-1.55,-1.25,-1,-0.6,-0.25,0],"range":["#00007f","#0000ff","#00ffff","#7fff7f","#ffff00","#ff7f00","#ff0000","#7f0000"]},"legend":{"title":null,"orient":"none","legendX":410,"legendY":391,"direction":"vertical","gradientLength":280,"gradientThickness":15,"gradientStrokeColor":"#666666","gradientStrokeWidth":0.8,"values":[0,-0.5,-1,-1.5,-2],"labelExpr":"replace(format(datum.value,'~g'),'−','-')","labelOverlap":false,"labelFont":"DejaVu Sans","labelFontSize":11,"labelColor":"#111111","labelOffset":7,"labelBaseline":"middle"}}}},
{"data":{"values":[{"x":0,"x2":180,"y":3.3}]},"mark":{"type":"rule","color":"#111111","strokeWidth":1.6},"encoding":{"x2":{"field":"x2"}}},
{"data":{"values":[{"x":28.65,"y":93,"t":"Surface: Displacement field, Y component (µm)"}]},"mark":{"type":"text","align":"left","fontSize":10.5,"color":"#222222"},"encoding":{"text":{"field":"t"}}},
{"data":{"values":[{"x":-20.35,"y":85.5,"t":"µm"},{"x":181.15,"y":-91,"t":"µm"}]},"mark":{"type":"text","fontSize":12,"color":"#555555"},"encoding":{"text":{"field":"t"}}},
{"data":{"values":[{"x":190.65,"y":78,"t":"▲"},{"x":190.65,"y":-83,"t":"▼"}]},"mark":{"type":"text","fontSize":12,"color":"#111111"},"encoding":{"text":{"field":"t"}}},
{"data":{"values":[{"x":195.6,"y":78,"t":"7.38×1"},{"x":202.6,"y":70,"t":"×10⁻"},{"x":195.6,"y":-83,"t":"-2.42×10⁻³"}]},"mark":{"type":"text","align":"left","fontSize":11,"color":"#222222"},"encoding":{"text":{"field":"t"}}},
{"data":{"values":[{"x":-40.35,"y":7,"t":"(b)"}]},"mark":{"type":"text","font":"Liberation Serif","fontSize":14,"color":"#222222"},"encoding":{"text":{"field":"t"}}}
]}
]}
